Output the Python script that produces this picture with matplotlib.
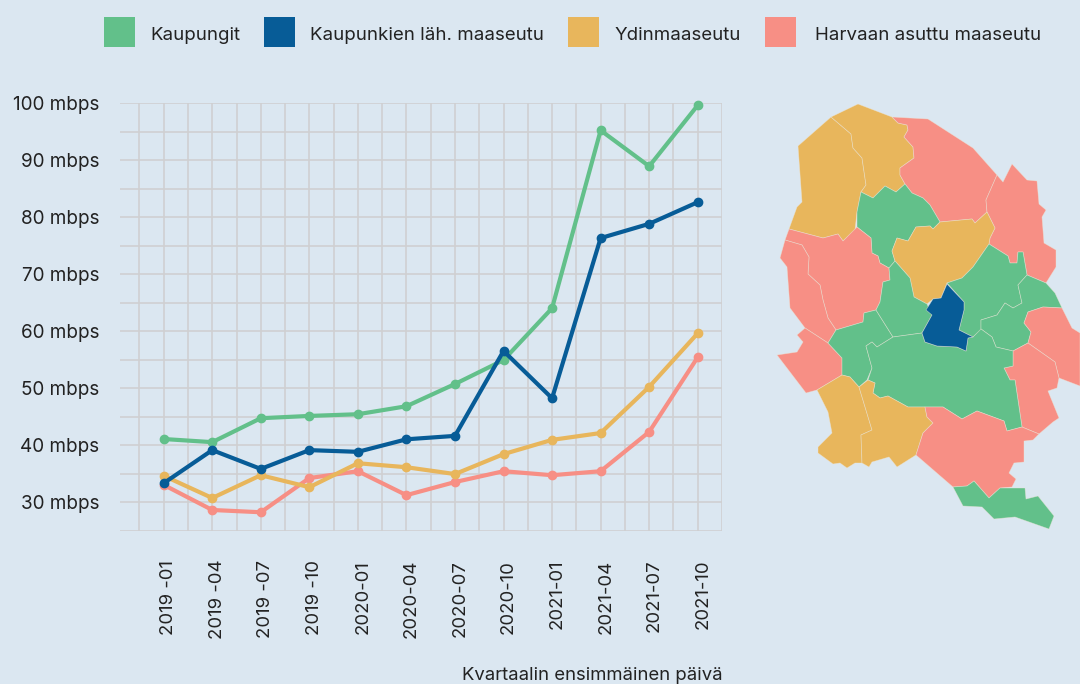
import matplotlib
matplotlib.use("Agg")
import matplotlib.pyplot as plt
from matplotlib.patches import Patch, Polygon
from matplotlib.transforms import ScaledTranslation

plt.rcParams['font.family'] = ['Inter', 'DejaVu Sans']

BG = '#DBE7F1'
GRID = '#CFD0D2'
GREEN = '#62C08A'
BLUE = '#075C97'
YELLOW = '#E8B65C'
PINK = '#F78F85'
TEXT = '#222222'
FS = 13.35

quarters = ['2019 -01', '2019 -04', '2019 -07', '2019 -10', '2020-01', '2020-04',
            '2020-07', '2020-10', '2021-01', '2021-04', '2021-07', '2021-10']
kaupungit = [41.05, 40.5, 44.7, 45.1, 45.4, 46.8, 50.7, 54.9, 64.0, 95.2, 88.9, 99.6]
lahimaaseutu = [33.3, 39.1, 35.8, 39.1, 38.8, 41.0, 41.6, 56.5, 48.2, 76.3, 78.8, 82.6]
ydinmaaseutu = [34.6, 30.7, 34.7, 32.6, 36.8, 36.1, 34.9, 38.4, 40.9, 42.1, 50.2, 59.6]
harvaan = [33.0, 28.6, 28.2, 34.2, 35.4, 31.2, 33.5, 35.4, 34.7, 35.4, 42.3, 55.4]
series_names = ['Kaupungit', 'Kaupunkien läh. maaseutu', 'Ydinmaaseutu', 'Harvaan asuttu maaseutu']
y_ticks = [30, 40, 50, 60, 70, 80, 90, 100]

map_regions = [
    (YELLOW, [(831,117),(798,146),(802,202),(797,207),(789,229),(823,238),(838,234),(843,241),(855,230),(857,212),(861,192),(866,185),(862,158),(853,148),(851,134)]),
    (YELLOW, [(831,117),(858,104),(892,117),(898,123),(907,125),(908,130),(904,137),(913,147),(914,158),(900,168),(900,175),(905,184),(896,192),(885,186),(873,198),(861,192),(866,185),(862,158),(853,148),(851,134)]),
    (PINK, [(892,117),(928,119),(973,148),(997,175),(986,200),(987,212),(975,223),(972,219),(940,222),(930,205),(923,198),(912,193),(905,184),(900,175),(900,168),(914,158),(913,147),(904,137),(908,130),(907,125),(898,123)]),
    (PINK, [(997,175),(1003,182),(1012,164),(1027,180),(1037,181),(1039,204),(1046,210),(1042,217),(1044,243),(1056,250),(1056,267),(1046,283),(1027,275),(1023,252),(1018,252),(1017,263),(1010,263),(1008,256),(989,244),(990,238),(995,228),(987,212),(986,200)]),
    (GREEN, [(861,192),(873,198),(885,186),(896,192),(905,184),(912,193),(923,198),(930,205),(940,222),(933,229),(930,226),(916,227),(908,241),(897,238),(892,251),(895,261),(889,268),(880,263),(878,256),(872,253),(871,238),(857,227),(857,212)]),
    (YELLOW, [(940,222),(972,219),(975,223),(987,212),(995,228),(990,238),(989,244),(973,267),(962,278),(947,283),(941,298),(933,299),(927,304),(914,297),(910,278),(895,261),(892,251),(897,238),(908,241),(916,227),(930,226),(933,229)]),
    (PINK, [(789,229),(823,238),(838,234),(843,241),(857,227),(871,238),(872,253),(878,256),(880,263),(889,268),(890,280),(883,282),(880,302),(876,310),(864,313),(863,322),(836,330),(828,318),(823,300),(820,285),(808,274),(809,257),(802,245),(785,240)]),
    (PINK, [(785,240),(780,258),(787,267),(790,308),(805,328),(828,343),(836,330),(828,318),(823,300),(820,285),(808,274),(809,257),(802,245)]),
    (PINK, [(805,328),(828,343),(842,358),(842,375),(817,390),(806,393),(777,355),(797,352),(803,342),(797,335)]),
    (GREEN, [(828,343),(836,330),(863,322),(864,313),(876,310),(893,337),(877,347),(872,342),(866,346),(872,368),(867,380),(859,387),(850,377),(842,375),(842,358)]),
    (GREEN, [(889,268),(895,261),(910,278),(914,297),(927,304),(932,315),(922,333),(893,337),(876,310),(880,302),(883,282),(890,280)]),
    (GREEN, [(947,283),(962,278),(973,267),(989,244),(1008,256),(1010,263),(1017,263),(1018,252),(1023,252),(1027,275),(1018,285),(1022,303),(1013,308),(1005,303),(997,315),(981,320),(981,330),(973,337),(959,330),(964,310),(964,302)]),
    (GREEN, [(1027,275),(1046,283),(1055,293),(1062,308),(1043,307),(1028,312),(1024,323),(1031,332),(1028,343),(1013,351),(996,347),(992,337),(981,329),(981,320),(997,315),(1005,303),(1013,308),(1022,303),(1018,285)]),
    (PINK, [(1028,312),(1043,307),(1062,308),(1072,328),(1080,333),(1080,386),(1059,378),(1055,362),(1028,343),(1031,332),(1024,323)]),
    (PINK, [(1028,343),(1055,362),(1059,378),(1057,388),(1048,391),(1059,418),(1053,422),(1039,434),(1022,427),(1015,380),(1010,380),(1004,368),(1013,366),(1013,351)]),
    (GREEN, [(893,337),(922,333),(925,342),(937,346),(957,347),(966,351),(968,338),(973,337),(981,329),(992,337),(996,347),(1013,351),(1013,366),(1004,368),(1010,380),(1015,380),(1022,427),(1007,431),(1004,421),(977,411),(962,419),(943,407),(908,407),(888,396),(880,398),(873,393),(875,383),(868,380),(872,368),(866,346),(872,342),(877,347)]),
    (YELLOW, [(817,390),(842,375),(850,377),(859,387),(872,430),(861,435),(862,463),(855,463),(847,468),(840,463),(833,464),(818,453),(818,447),(832,433),(828,412)]),
    (YELLOW, [(859,387),(868,380),(875,383),(873,393),(880,398),(888,396),(908,407),(925,407),(927,417),(933,423),(923,433),(916,455),(897,467),(889,457),(872,462),(869,467),(862,463),(861,435),(872,430)]),
    (PINK, [(925,407),(943,407),(962,419),(977,411),(1004,421),(1007,431),(1022,427),(1039,434),(1033,440),(1024,441),(1024,462),(1014,463),(1009,473),(1016,479),(1012,487),(1000,488),(989,498),(974,481),(967,486),(953,487),(916,455),(923,433),(933,423),(927,417)]),
    (GREEN, [(953,487),(967,486),(974,481),(989,498),(1000,488),(1025,488),(1026,499),(1038,496),(1054,516),(1049,529),(1015,517),(994,519),(982,507),(963,506)]),
    (BLUE, [(947,284),(964,302),(964,310),(959,330),(973,337),(968,338),(966,351),(957,347),(937,346),(925,342),(922,333),(932,315),(926,310),(933,299),(941,298)]),
]

W, H = 1080, 684
fig = plt.figure(figsize=(W / 100, H / 100), dpi=100, facecolor=BG)
ax = fig.add_axes([120 / W, 1 - 530.5 / H, 602 / W, 427.5 / H], facecolor=BG)

x = list(range(len(quarters)))
kw = dict(lw=3.0, marker='o', ms=6.0, solid_capstyle='round', clip_on=False)
ax.plot(x, kaupungit, color=GREEN, zorder=3, **kw)
ax.plot(x, harvaan, color=PINK, zorder=4, **kw)
ax.plot(x, lahimaaseutu, color=BLUE, zorder=5, **kw)
ax.plot(x, ydinmaaseutu, color=YELLOW, zorder=4.5, **kw)

ax.set_xlim(-0.9, 11.5)
ax.set_ylim(25, 100)
ax.set_yticks(y_ticks)
ax.set_yticklabels([f'{v} mbps' for v in y_ticks], fontsize=13.6, color=TEXT)
ax.set_yticks([v - 5 for v in y_ticks], minor=True)
ax.set_xticks(x)
ax.set_xticklabels(quarters, rotation=90, fontsize=FS, color=TEXT)
ax.set_xticks([v - 0.5 for v in x] + [11.5], minor=True)
ax.tick_params(which='both', length=0)
ax.tick_params(axis='y', pad=15)
ax.tick_params(axis='x', pad=21)
offset = ScaledTranslation(5 / 100, 0, fig.dpi_scale_trans)
for lab in ax.get_xticklabels():
    lab.set_transform(lab.get_transform() + offset)
ax.grid(True, which='both', color=GRID, lw=1.2)
ax.set_axisbelow(True)
for s in ax.spines.values():
    s.set_visible(False)

fig.text(723 / W, 1 - 675 / H, 'Kvartaalin ensimmäinen päivä', ha='right', va='center',
         fontsize=FS, color=TEXT)

handles = [Patch(facecolor=c, edgecolor='none') for c in (GREEN, BLUE, YELLOW, PINK)]
leg = fig.legend(handles, series_names, ncol=4, loc='upper left',
                 bbox_to_anchor=(104 / W, 1 - 17 / H), frameon=False, borderpad=0, borderaxespad=0,
                 fontsize=13.45, labelcolor=TEXT, handlelength=1.66, handleheight=2.09,
                 handletextpad=0.8, columnspacing=1.3)
for t in leg.get_texts():
    t.set_position((0, -2))
leg.get_texts()[-1].set_position((4, -2))

map_ax = fig.add_axes([0, 0, 1, 1], facecolor='none')
map_ax.set_xlim(0, W)
map_ax.set_ylim(H, 0)
map_ax.axis('off')
for colour, outline in map_regions:
    map_ax.add_patch(Polygon(outline, closed=True, facecolor=colour,
                             edgecolor=(0.93, 0.90, 0.84, 0.55), lw=0.5, joinstyle='round'))

fig.savefig('out.png', dpi=100, facecolor=BG)
